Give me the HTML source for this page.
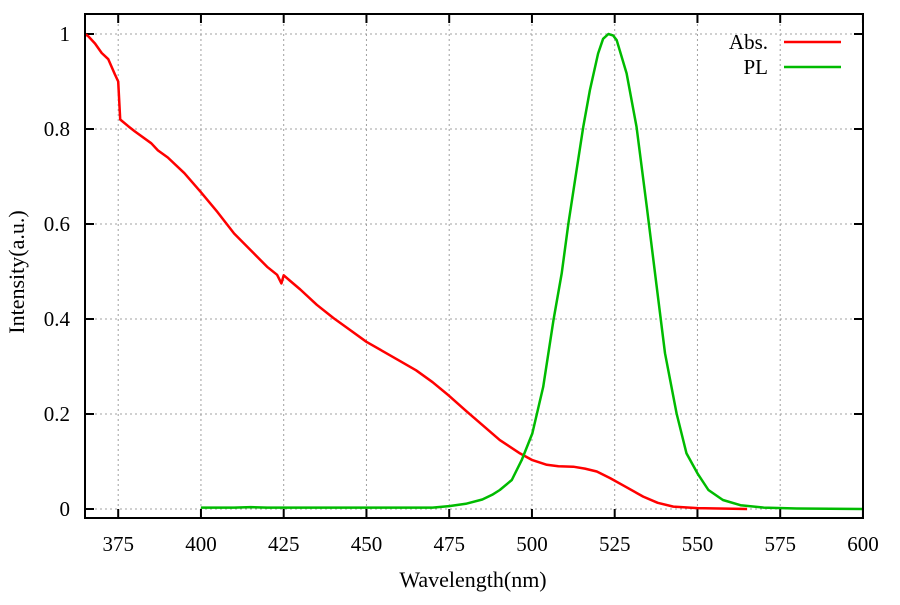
<!DOCTYPE html>
<html><head><meta charset="utf-8"><style>
html,body{margin:0;padding:0;background:#fff}
svg text{font-family:"Liberation Serif",serif;font-size:21px;fill:#000}
svg text.t{font-size:22px}
</style></head><body>
<svg id="s" width="900" height="600" xmlns="http://www.w3.org/2000/svg">
<g id="grid" stroke="#a0a0a0" stroke-width="1" stroke-dasharray="2,3" fill="none"></g>
<g id="ticks" stroke="#000" stroke-width="2"></g>
<g id="labels"></g>
<path id="abs" fill="none" stroke="#ff0000" stroke-width="2.5" stroke-linejoin="round"/>
<path id="pl" fill="none" stroke="#00bb00" stroke-width="2.5" stroke-linejoin="round"/>
<rect x="85" y="14" width="778" height="504" fill="none" stroke="#000" stroke-width="2"/>
<text x="768" y="49" text-anchor="end">Abs.</text>
<line x1="784" y1="42" x2="841" y2="42" stroke="#ff0000" stroke-width="2.5"/>
<text x="768" y="74" text-anchor="end">PL</text>
<line x1="784" y1="67" x2="841" y2="67" stroke="#00bb00" stroke-width="2.5"/>
<text class="t" x="473" y="587" text-anchor="middle">Wavelength(nm)</text>
<text class="t" transform="translate(24,272) rotate(-90)" text-anchor="middle">Intensity(a.u.)</text>
</svg>
<script>
function X(w){return 118.2+(w-375)*82.75/25;}
function Y(v){return 509-475*v;}
var g=document.getElementById('grid'),t=document.getElementById('ticks'),l=document.getElementById('labels');
var ns='http://www.w3.org/2000/svg';
function el(p,tag,a,txt){var e=document.createElementNS(ns,tag);for(var k in a)e.setAttribute(k,a[k]);if(txt!==undefined)e.textContent=txt;p.appendChild(e);}
for(var w=375;w<=600;w+=25){var x=X(w);
 if(w<600)el(g,'line',{x1:x,y1:14,x2:x,y2:518});
 el(t,'line',{x1:x,y1:518,x2:x,y2:509});el(t,'line',{x1:x,y1:14,x2:x,y2:23});
 el(l,'text',{x:x,y:551,'text-anchor':'middle'},String(w));}
var yl=['0','0.2','0.4','0.6','0.8','1'];
for(var i=0;i<=5;i++){var v=i*0.2,y=Y(v);
 el(g,'line',{x1:85,y1:y,x2:863,y2:y});
 el(t,'line',{x1:85,y1:y,x2:94,y2:y});el(t,'line',{x1:863,y1:y,x2:854,y2:y});
 el(l,'text',{x:70,y:y+7,'text-anchor':'end'},yl[i]);}
var abs=[[365,1.0],[366,0.995],[368,0.98],[370,0.96],[372,0.947],[374,0.915],[375,0.9],[375.6,0.82],[378,0.806],[380,0.795],[385,0.77],[387,0.755],[390,0.74],[395,0.707],[400,0.667],[405,0.625],[410,0.58],[415,0.545],[420,0.51],[423,0.493],[424.3,0.475],[425,0.492],[427,0.48],[430,0.462],[435,0.43],[440,0.402],[445,0.377],[450,0.352],[455,0.332],[460,0.312],[465,0.292],[470,0.267],[475,0.238],[480,0.207],[485,0.177],[490.3,0.145],[496.4,0.117],[500.1,0.103],[504.5,0.093],[508,0.09],[512.5,0.089],[516,0.085],[519.6,0.079],[523.6,0.065],[528,0.048],[533.6,0.026],[538,0.013],[542.7,0.005],[550,0.002],[565,0.0]];
var pl=[[400,0.003],[410,0.003],[415,0.004],[420,0.003],[470,0.003],[475,0.006],[480,0.011],[485,0.02],[488,0.03],[490.3,0.04],[493.9,0.061],[496.9,0.103],[500.1,0.159],[503.4,0.257],[506.5,0.398],[509,0.496],[511,0.601],[513.5,0.714],[515.5,0.805],[517.5,0.882],[520,0.959],[521.5,0.99],[523.1,1.0],[524.5,0.997],[525.6,0.987],[528.6,0.917],[531.6,0.805],[534.7,0.636],[537.7,0.468],[540.2,0.328],[543.7,0.201],[546.7,0.117],[550,0.075],[553.3,0.04],[557.7,0.019],[563,0.008],[570,0.003],[580,0.001],[600,0.0]];
function P(a){return a.map(function(p,i){return (i?'L':'M')+X(p[0]).toFixed(1)+','+Y(p[1]).toFixed(1);}).join('');}
document.getElementById('abs').setAttribute('d',P(abs));
document.getElementById('pl').setAttribute('d',P(pl));
</script>
</body></html>
